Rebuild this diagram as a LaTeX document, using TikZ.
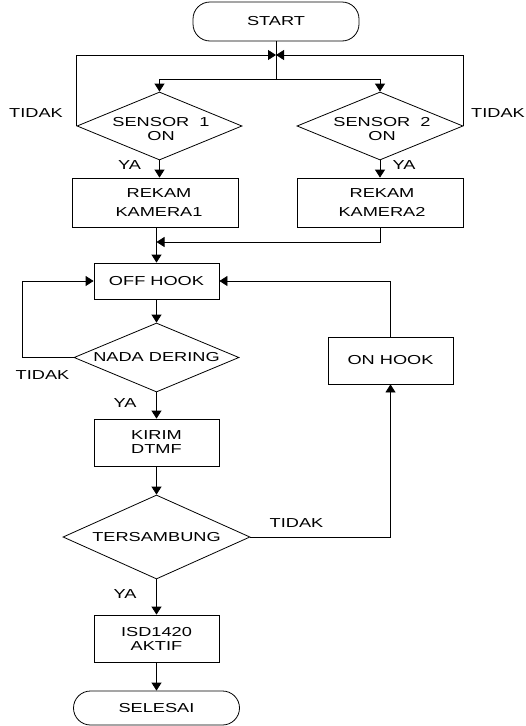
\documentclass[tikz,border=0pt]{standalone}
\usepackage{fontspec}
\setmainfont{Liberation Sans}[FakeStretch=1.4]
\usetikzlibrary{shapes.geometric,arrows.meta}
\begin{document}
\begin{tikzpicture}[x=1pt,y=-1pt,line width=0.8pt,
  every node/.style={font=\fontsize{13}{14}\selectfont},
  term/.style={draw,rounded corners=17pt,minimum width=166pt,inner sep=0pt},
  proc/.style={draw,rectangle,minimum width=125pt,minimum height=47pt,inner sep=0pt,align=center},
  dec/.style={draw,diamond,inner sep=0pt},
  txt/.style={align=center,inner sep=0pt},
  arr/.style={-{Triangle[length=8pt,width=10pt]}}]
\useasboundingbox (0,0) rectangle (526,726);
% nodes
\node[term,minimum height=39pt] (start) at (276,21.5) {START};
\node[dec,minimum width=165pt,minimum height=68pt] (d1) at (159.5,126) {};
\node[txt] (d1t) at (161,129) {SENSOR\ \ 1\\ON};
\node[dec,minimum width=166pt,minimum height=68pt] (d2) at (380,126) {};
\node[txt] (d2t) at (382,129) {SENSOR\ \ 2\\ON};
\node[proc,minimum width=166pt,minimum height=49pt] (r1) at (155,202.5) {};
\node[txt] (r1t) at (159,203) {REKAM\\[5pt]KAMERA1};
\node[proc,minimum width=166pt,minimum height=49pt] (r2) at (380,202.5) {};
\node[txt] (r2t) at (382,203) {REKAM\\[5pt]KAMERA2};
\node[proc,minimum height=36pt] (off) at (156.5,281) {OFF HOOK};
\node[dec,minimum width=165pt,minimum height=69pt] (nada) at (156.5,357.5) {};
\node[txt] (nadat) at (156.5,357.5) {NADA DERING};
\node[proc] (kirim) at (156.5,442.5) {\fontsize{13}{13}\selectfont KIRIM\\DTMF};
\node[dec,minimum width=187pt,minimum height=84pt] (ters) at (156.5,537) {};
\node[txt] (terst) at (156.5,537) {TERSAMBUNG};
\node[proc] (onhook) at (390.5,360.5) {ON HOOK};
\node[proc] (isd) at (156.5,638.5) {\fontsize{13}{12.5}\selectfont ISD1420\\AKTIF};
\node[term,minimum height=34pt] (sel) at (156.5,708) {SELESAI};
% labels
\node[txt] (t1) at (36,113) {TIDAK};
\node[txt] (t2) at (498,113) {TIDAK};
\node[txt] (y1) at (129.5,165) {YA};
\node[txt] (y2) at (404,165) {YA};
\node[txt] (t3) at (42.5,375) {TIDAK};
\node[txt] (y3) at (125,403) {YA};
\node[txt] (t4) at (296.5,523) {TIDAK};
\node[txt] (y4) at (125,594) {YA};
% coordinates
\coordinate (m) at (276,55);
\coordinate (s) at (276,79);
\coordinate (j) at (156.5,242);
% connectors
\draw (start.south) -- (s);
\draw[arr] (s) -| (d1.north);
\draw[arr] (s) -| (d2.north);
\draw[arr] (d1.west) |- (m);
\draw[arr] (d2.east) |- (m);
\draw[arr] (d1.south) -- (d1.south |- r1.north);
\draw[arr] (d2.south) -- (r2.north);
\draw (r1.south -| j) -- (j);
\draw[arr] (j) -- (off.north);
\draw[arr] (r2.south) |- (j);
\draw[arr] (off.south) -- (nada.north);
\draw[arr] (nada.west) -- ++(-51,0) |- (off.west);
\draw[arr] (nada.south) -- (kirim.north);
\draw[arr] (kirim.south) -- (ters.north);
\draw[arr] (ters.east) -| (onhook.south);
\draw[arr] (onhook.north) |- (off.east);
\draw[arr] (ters.south) -- (isd.north);
\draw[arr] (isd.south) -- (sel.north);
\end{tikzpicture}
\end{document}
